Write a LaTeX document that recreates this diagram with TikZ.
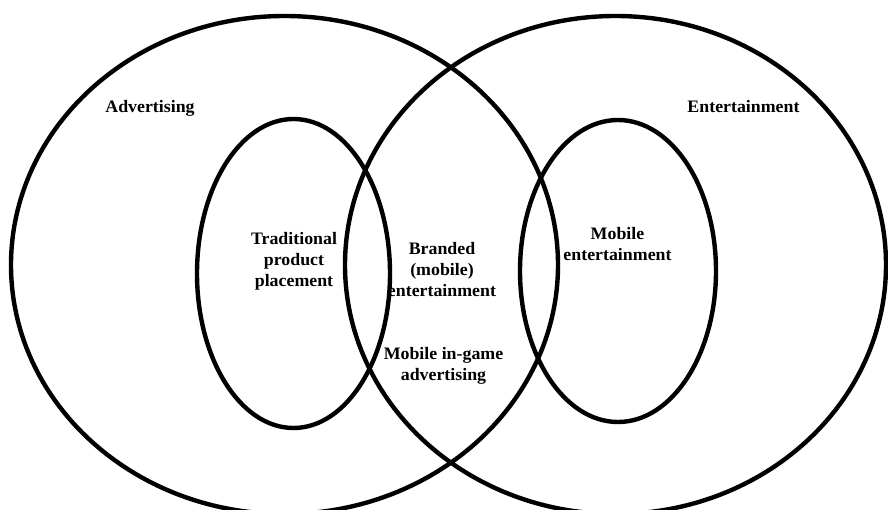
\documentclass[tikz,border=0pt]{standalone}
\usepackage{fontspec}
\setmainfont{Liberation Serif}[FakeStretch=1.02]
\begin{document}
\begin{tikzpicture}[x=1pt,y=-1pt,
  ring/.style={line width=4.4pt, draw=black},
  label/.style={font=\bfseries\fontsize{17.5}{21}\selectfont, align=center,
    anchor=base, inner sep=0pt}]
\useasboundingbox (0,0) rectangle (888,510);

% labels (base anchor sits on the last line of each label)
\node[label] (adv) at (150,113) {Advertising};
\node[label] (ent) at (743.5,113) {Entertainment};
\node[label] (tpp) at (294,287) {Traditional\\product\\placement};
\node[label] (bme) at (442,297) {Branded\\(mobile)\\entertainment};
\node[label] (mig) at (443.5,380) {Mobile in-game\\advertising};
\node[label] (me)  at (617.5,261) {Mobile\\entertainment};

% outer sets
\draw[ring] (284.5,265) ellipse [x radius=273.5pt, y radius=249pt];
\draw[ring] (615.5,265) ellipse [x radius=270.5pt, y radius=249pt];
% inner sets
\draw[ring] (293.5,273.5) ellipse [x radius=96.5pt, y radius=154.5pt];
\draw[ring] (618,271) ellipse [x radius=98pt, y radius=151pt];
\end{tikzpicture}
\end{document}
